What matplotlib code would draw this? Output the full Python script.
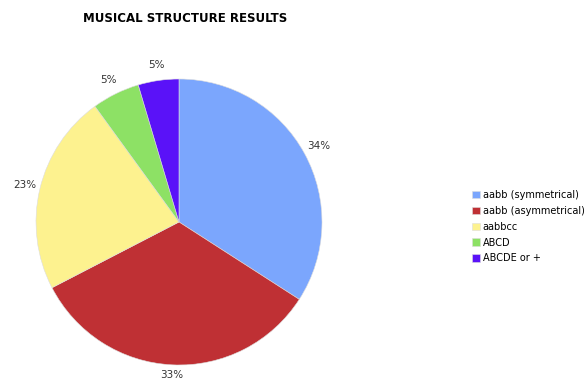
import matplotlib.pyplot as plt

# dados do gráfico
categorias = ["aabb (symmetrical)", "aabb (asymmetrical)", "aabbcc", "ABCD", "ABCDE or +"]
percentagens = [34.1, 33.3, 22.6, 5.4, 4.6]
cores = ["#7BA6FD", "#BF3034", "#FDF28F", "#8DE165", "#5A12F8"]

fig = plt.figure(figsize=(5.87, 3.81), dpi=100)
ax = fig.add_axes([36 / 587, 16 / 381, 286 / 587, 286 / 381])

fatias, textos, autotextos = ax.pie(
    percentagens,
    colors=cores,
    startangle=90,
    counterclock=False,
    autopct="%.0f%%",
    pctdistance=1.11,
    wedgeprops={"linewidth": 0.4, "edgecolor": "#dddddd"},
    textprops={"fontsize": 7.5, "color": "#333333"},
)
ax.set_xlim(-1, 1)
ax.set_ylim(-1, 1)
ax.set_aspect("equal")
for t in autotextos:
    t.set_clip_on(False)
# a etiqueta de baixo fica um pouco mais perto do círculo
x, y = autotextos[1].get_position()
autotextos[1].set_position((x * 1.07 / 1.11, y * 1.07 / 1.11))

fig.text(83 / 587, 1 - 18 / 381, "MUSICAL STRUCTURE RESULTS",
         fontsize=8.5, fontweight="bold", va="center", ha="left")

ax.legend(fatias, categorias, loc="upper left",
          bbox_to_anchor=(472 / 587, 1 - 190 / 381),
          bbox_transform=fig.transFigure,
          frameon=False, fontsize=7, handlelength=0.8, handleheight=0.8,
          handletextpad=0.3, labelspacing=0.6, borderpad=0, borderaxespad=0)

fig.savefig("out.png", dpi=100)
